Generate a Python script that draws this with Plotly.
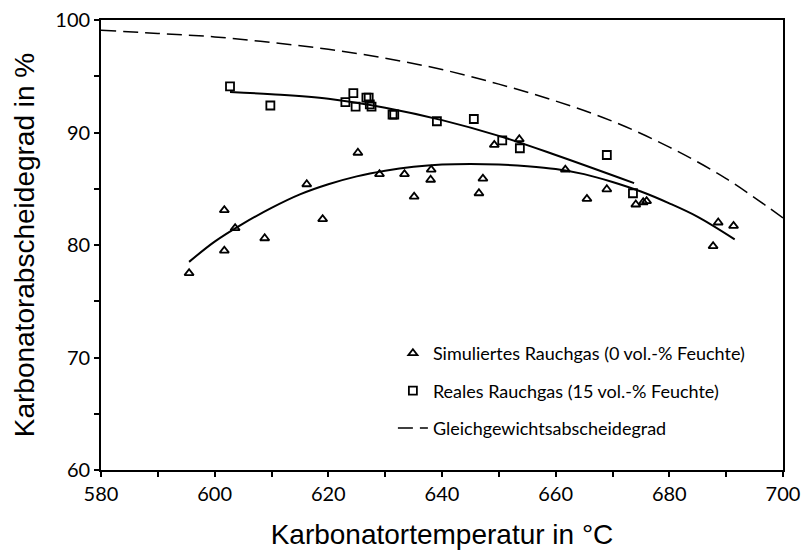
import plotly.graph_objects as go

# Simuliertes Rauchgas (0 vol.-% Feuchte)
sim_temp = [595.5, 601.7, 601.7, 603.6, 608.8, 616.2, 619.0, 625.2, 629.0, 633.4,
            635.1, 638.0, 638.1, 646.5, 647.2, 649.2, 653.6, 661.7, 665.5, 669.0,
            674.1, 675.4, 676.0, 687.7, 688.6, 691.3]
sim_grad = [77.5, 83.1, 79.5, 81.5, 80.6, 85.4, 82.3, 88.2, 86.3, 86.3,
            84.3, 85.8, 86.7, 84.6, 85.9, 88.9, 89.4, 86.7, 84.1, 84.95,
            83.6, 83.8, 83.9, 79.9, 82.0, 81.7]

# Reales Rauchgas (15 vol.-% Feuchte)
real_temp = [602.7, 609.8, 623.0, 624.4, 624.8, 626.7, 627.1, 627.3, 627.6, 631.3,
             631.6, 639.1, 645.6, 650.6, 653.7, 669.0, 673.6]
real_grad = [94.1, 92.4, 92.7, 93.5, 92.3, 93.1, 93.1, 92.5, 92.3, 91.6,
             91.6, 91.0, 91.2, 89.3, 88.6, 88.0, 84.6]

# Trendlinien
sim_trend_temp = [595.5, 600, 605, 610, 615, 620, 625, 630, 635, 640, 645, 650,
                  655, 660, 665, 670, 675, 680, 685, 691.5]
sim_trend_grad = [78.5, 80.3, 81.9, 83.3, 84.5, 85.4, 86.1, 86.6, 86.95, 87.15, 87.2, 87.15,
                  87.0, 86.75, 86.3, 85.6, 84.75, 83.7, 82.5, 80.5]
real_trend_temp = [602.7, 610, 620, 630, 640, 650, 660, 673.8]
real_trend_grad = [93.6, 93.4, 93.0, 92.2, 91.1, 89.7, 88.0, 85.5]

# Gleichgewichtsabscheidegrad
eq_temp = [580, 590, 600, 610, 620, 630, 640, 650, 660, 670, 680, 690, 700]
eq_grad = [99.1, 98.8, 98.5, 98.0, 97.4, 96.6, 95.6, 94.3, 92.8, 91.0, 88.7, 85.9, 82.4]

x_ticks = [580, 600, 620, 640, 660, 680, 700]
y_ticks = [60, 70, 80, 90, 100]

LABEL_FONT = "Lato, 'Open Sans', sans-serif"
TITLE_FONT = "Liberation Sans, Arial, sans-serif"

fig = go.Figure()

fig.add_trace(go.Scatter(
    x=sim_temp, y=sim_grad, mode="markers",
    name="Simuliertes Rauchgas (0 vol.-% Feuchte)", legendgroup="a",
    marker=dict(symbol="triangle-up-open", size=8, color="black", line=dict(width=1.8)),
))
fig.add_trace(go.Scatter(
    x=real_temp, y=real_grad, mode="markers",
    name="Reales Rauchgas (15 vol.-% Feuchte)", legendgroup="b",
    marker=dict(symbol="square-open", size=8, color="black", line=dict(width=1.8)),
))
fig.add_trace(go.Scatter(
    x=eq_temp, y=eq_grad, mode="lines",
    name="Gleichgewichtsabscheidegrad", legendgroup="c",
    line=dict(color="black", width=1.5, dash="15px,7px", shape="spline"),
))
fig.add_trace(go.Scatter(
    x=sim_trend_temp, y=sim_trend_grad, mode="lines", showlegend=False,
    line=dict(color="black", width=2, shape="spline"),
))
fig.add_trace(go.Scatter(
    x=real_trend_temp, y=real_trend_grad, mode="lines", showlegend=False,
    line=dict(color="black", width=2, shape="spline"),
))

axis_common = dict(
    showgrid=False, zeroline=False, showline=True, linecolor="black", linewidth=1.8,
    mirror=True, ticks="outside", ticklen=5, tickwidth=1.5, tickcolor="black",
    tickfont=dict(family=LABEL_FONT, size=20, color="black"), automargin=False,
)

fig.update_xaxes(
    range=[580, 700], tickmode="array", tickvals=x_ticks,
    minor=dict(ticks="outside", ticklen=5, tickwidth=1.5, tickcolor="black", dtick=10, tick0=580),
    title=dict(text="Karbonatortemperatur in °C", font=dict(family=TITLE_FONT, size=28, color="black"),
               standoff=20),
    **axis_common,
)
fig.update_yaxes(
    range=[60, 100], tickmode="array", tickvals=y_ticks,
    minor=dict(ticks="outside", ticklen=5, tickwidth=1.5, tickcolor="black", dtick=5, tick0=60),
    title=dict(text="Karbonatorabscheidegrad in %", font=dict(family=TITLE_FONT, size=28, color="black"),
               standoff=12),
    **axis_common,
)

fig.update_layout(
    width=804, height=553,
    margin=dict(l=101, r=21, t=20, b=83),
    plot_bgcolor="white", paper_bgcolor="white",
    legend=dict(
        x=0.428, y=0.30, xanchor="left", yanchor="top",
        font=dict(family=LABEL_FONT, size=18, color="black"),
        tracegroupgap=11, bgcolor="rgba(0,0,0,0)",
    ),
)

fig.write_html("out.html")
